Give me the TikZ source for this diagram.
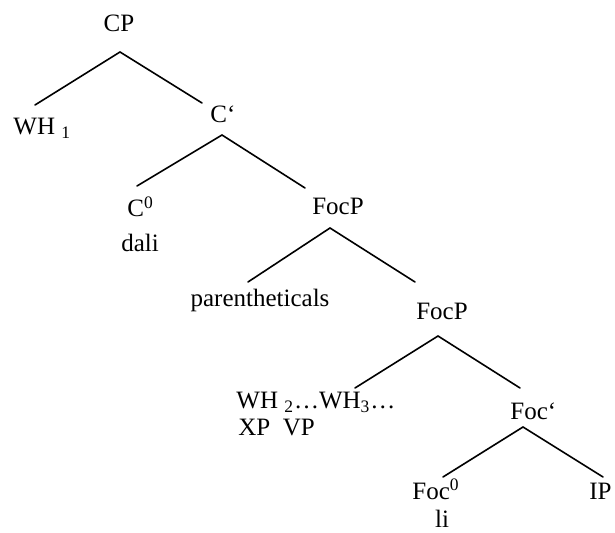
\documentclass[tikz,border=0pt]{standalone}
\usepackage{fontspec}
\setmainfont{Liberation Serif}
\usetikzlibrary{calc}

\begin{document}
\begin{tikzpicture}[
    x=0.5pt, y=-0.5pt,
    branch/.style={line width=0.8pt, line cap=round},
    label/.style={inner sep=0pt, font=\fontsize{12.5}{15}\selectfont},
    every node/.style={color=black}
    ]
    \useasboundingbox (0,0) rectangle (615,533);

    % labels
    \node[label, anchor=base] (CP) at (119,32) {CP};
    \node[label, anchor=base west] (WH1) at (13,135) {WH \textsubscript{1}};
    \node[label, anchor=base west] (Cbar) at (210,123) {C`};
    \node[label, anchor=base west] (C0) at (127,217) {C\textsuperscript{0}};
    \node[label, anchor=base] (dali) at (140,252) {dali};
    \node[label, anchor=base] (FocP1) at (338,215) {FocP};
    \node[label, anchor=base] (paren) at (260,307) {parentheticals};
    \node[label, anchor=base] (FocP2) at (442,320) {FocP};
    \node[label, anchor=base west] (wh) at (236,409) {WH \textsubscript{2}\ldots WH\textsubscript{3}\ldots};
    \node[label, anchor=base west] (xpvp) at (238,436) {XP\ \ VP};
    \node[label, anchor=base west] (Focbar) at (510,420) {Foc`};
    \node[label, anchor=base west] (Foc0) at (412,499) {Foc\textsuperscript{0}};
    \node[label, anchor=base] (li) at (442,527) {li};
    \node[label, anchor=base west] (IP) at (589,499) {IP};

    % branches
    \draw[branch] ($(WH1.base west)+(22,-30)$) -- ($(CP.base)+(1,20)$) -- ($(Cbar.base west)+(-8,-20)$);
    \draw[branch] ($(C0.base west)+(10,-31)$) -- ($(Cbar.base west)+(12,12)$) -- ($(FocP1.base)+(-33,-27)$);
    \draw[branch] ($(paren.base)+(-12,-25)$) -- ($(FocP1.base)+(-8,13)$) -- ($(FocP2.base)+(-27,-38)$);
    \draw[branch] ($(wh.base west)+(119,-21)$) -- ($(FocP2.base)+(-4,16)$) -- ($(Focbar.base west)+(10,-32)$);
    \draw[branch] ($(Foc0.base west)+(31,-22)$) -- ($(Focbar.base west)+(13,7)$) -- ($(IP.base west)+(14,-22)$);
\end{tikzpicture}
\end{document}
